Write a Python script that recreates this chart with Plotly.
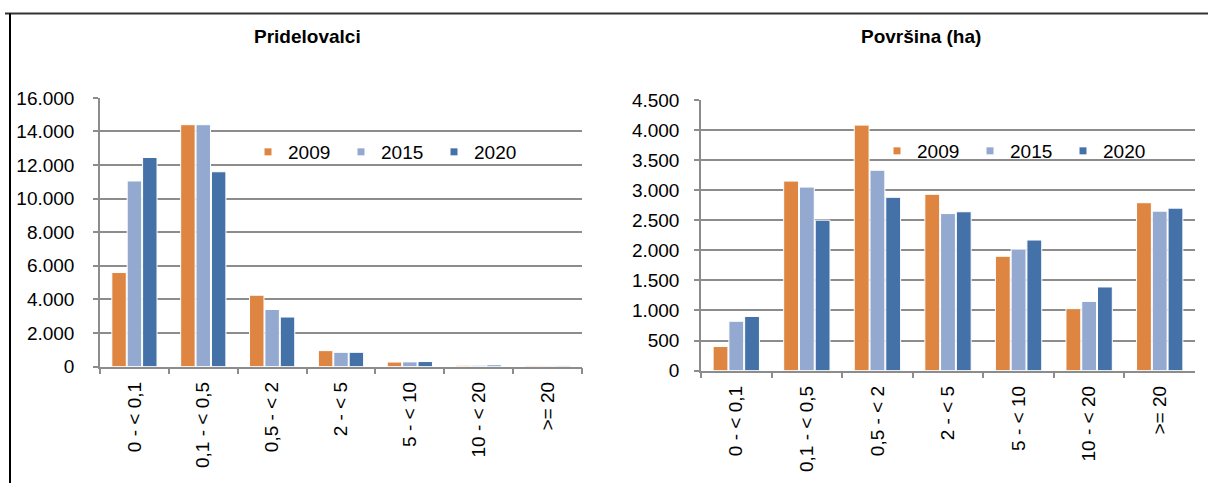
import plotly.graph_objects as go

categories = ["0 - < 0,1", "0,1 - < 0,5", "0,5 - < 2", "2 - < 5", "5 - < 10", "10 - < 20", ">= 20"]
years = ["2009", "2015", "2020"]

growers_2009 = [5600, 14400, 4250, 950, 270, 75, 60]
growers_2015 = [11050, 14400, 3400, 850, 280, 80, 58]
growers_2020 = [12450, 11600, 2950, 850, 300, 95, 60]

area_2009 = [400, 3150, 4080, 2930, 1900, 1030, 2790]
area_2015 = [820, 3050, 3330, 2610, 2020, 1150, 2650]
area_2020 = [900, 2500, 2880, 2640, 2170, 1390, 2700]

growers_ticks = [0, 2000, 4000, 6000, 8000, 10000, 12000, 14000, 16000]
growers_tick_labels = ["0", "2.000", "4.000", "6.000", "8.000", "10.000", "12.000", "14.000", "16.000"]
area_ticks = [0, 500, 1000, 1500, 2000, 2500, 3000, 3500, 4000, 4500]
area_tick_labels = ["0", "500", "1.000", "1.500", "2.000", "2.500", "3.000", "3.500", "4.000", "4.500"]

title_left = "Pridelovalci"
title_right = "Površina (ha)"

colors = ["#DE8541", "#94A9D0", "#4472A8"]
W, H = 1208, 496
FONT = "Arial, Liberation Sans, sans-serif"
GRID = "#8C8C8C"

# vertical calibration of the capture (measured from earlier renders)
Y_OFF, Y_SCALE = 10.4, 0.955

def px_x(x):
    return x / W

def px_y(y):
    page_y = (y - Y_OFF) / Y_SCALE
    return (H - page_y) / H

fig = go.Figure()

growers = [growers_2009, growers_2015, growers_2020]
areas = [area_2009, area_2015, area_2020]

for i, yr in enumerate(years):
    fig.add_trace(go.Bar(x=categories, y=growers[i], name=yr, marker=dict(color=colors[i], line=dict(color="white", width=1)),
                         xaxis="x", yaxis="y", showlegend=False))
    fig.add_trace(go.Bar(x=categories, y=areas[i], name=yr, marker=dict(color=colors[i], line=dict(color="white", width=1)),
                         xaxis="x2", yaxis="y2", showlegend=False))

# legend entries (small square markers like the original)
for i, yr in enumerate(years):
    fig.add_trace(go.Scatter(x=[None], y=[None], mode="markers", name=yr,
                             marker=dict(symbol="square", size=7, color=colors[i]),
                             xaxis="x", yaxis="y", legend="legend"))
    fig.add_trace(go.Scatter(x=[None], y=[None], mode="markers", name=yr,
                             marker=dict(symbol="square", size=7, color=colors[i]),
                             xaxis="x2", yaxis="y2", legend="legend2"))

xcommon = dict(type="category", categoryorder="array", categoryarray=categories,
               showline=True, linecolor=GRID, linewidth=1.5, ticks="outside", tickson="boundaries",
               ticklen=6, tickcolor=GRID, tickwidth=1.5, tickangle=-90, showgrid=False,
               tickfont=dict(family=FONT, size=19, color="black"), ticklabelstandoff=6)
ycommon = dict(showline=True, linecolor=GRID, linewidth=1.5, ticks="outside", ticklen=5,
               tickcolor=GRID, tickwidth=1.5, showgrid=True, gridcolor=GRID, gridwidth=1.5,
               zeroline=False, tickfont=dict(family=FONT, size=19, color="black"))

fig.update_layout(
    width=W, height=H,
    margin=dict(l=0, r=0, t=0, b=0),
    paper_bgcolor="white", plot_bgcolor="white",
    barmode="group", bargap=0.33, bargroupgap=0.06,
    font=dict(family=FONT, size=19, color="black"),
    xaxis=dict(domain=[px_x(100), px_x(582)], anchor="y", **xcommon),
    yaxis=dict(domain=[px_y(366), px_y(98)], anchor="x", range=[0, 16000],
               tickvals=growers_ticks, ticktext=growers_tick_labels, ticklabelstandoff=15, **ycommon),
    xaxis2=dict(domain=[px_x(701), px_x(1195)], anchor="y2", **xcommon),
    yaxis2=dict(domain=[px_y(370), px_y(100)], anchor="x2", range=[0, 4500],
                tickvals=area_ticks, ticktext=area_tick_labels, ticklabelstandoff=11, **ycommon),
    legend=dict(orientation="h", x=px_x(248), xanchor="left", y=px_y(152), yanchor="middle",
                entrywidth=48, bgcolor="rgba(0,0,0,0)", font=dict(family=FONT, size=19, color="black")),
    legend2=dict(orientation="h", x=px_x(877), xanchor="left", y=px_y(151), yanchor="middle",
                 entrywidth=48, bgcolor="rgba(0,0,0,0)", font=dict(family=FONT, size=19, color="black")),
    annotations=[
        dict(text="<b>" + title_left + "</b>", x=px_x(307), y=px_y(37), xref="paper", yref="paper",
             showarrow=False, font=dict(family=FONT, size=19, color="black"), xanchor="center", yanchor="middle"),
        dict(text="<b>" + title_right + "</b>", x=px_x(921), y=px_y(37), xref="paper", yref="paper",
             showarrow=False, font=dict(family=FONT, size=19, color="black"), xanchor="center", yanchor="middle"),
    ],
    shapes=[
        dict(type="line", xref="paper", yref="paper", x0=px_x(5), x1=1, y0=px_y(14), y1=px_y(14),
             line=dict(color="#333333", width=2)),
        dict(type="line", xref="paper", yref="paper", x0=px_x(10), x1=px_x(10), y0=0, y1=px_y(14),
             line=dict(color="black", width=2)),
    ],
)

# remove the default page margin so the figure starts at the window's corner
page_fix = "document.documentElement.style.margin='0';document.body.style.margin='0';document.body.style.overflow='hidden';"
fig.write_html("out.html", post_script=page_fix, config={"displayModeBar": False})
